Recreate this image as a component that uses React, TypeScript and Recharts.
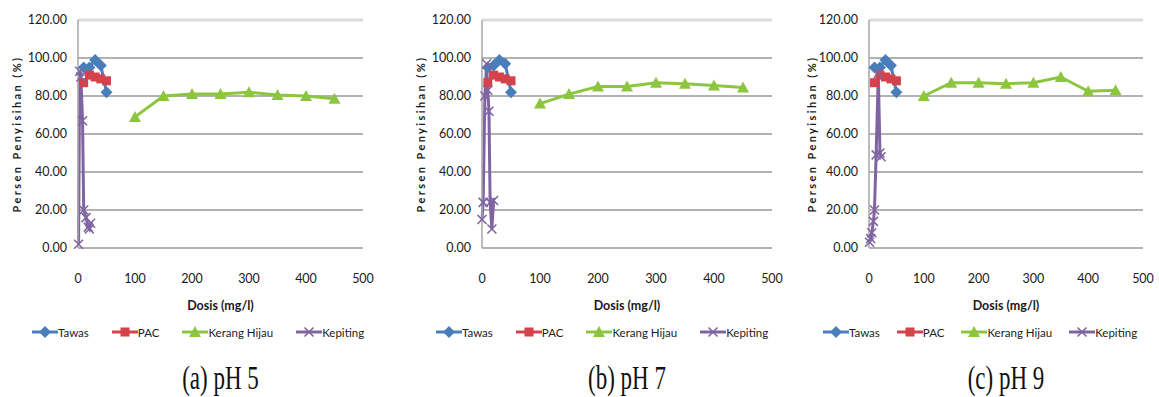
import { LineChart, Line, XAxis, YAxis, CartesianGrid, Legend, ReferenceLine } from 'recharts';

// doses (mg/l)
const tawasDose = [10, 20, 30, 40, 50];
const pacDose = [10, 20, 30, 40, 50];
const kerangDose = [100, 150, 200, 250, 300, 350, 400, 450];
const kepitingDosePh5 = [1, 3, 5, 8, 10, 14, 18, 20, 22];
const kepitingDosePh7 = [0, 2, 5, 8, 10, 12, 14, 17, 20];
const kepitingDosePh9 = [1, 3, 5, 8, 10, 13, 17, 20, 22];

// persen penyisihan (%)
const tawasPh5 = [95, 95, 99, 96, 82];
const tawasPh7 = [95, 96, 99, 97, 82];
const tawasPh9 = [95, 95, 99, 96, 82];
const pacPh5 = [87, 91, 90, 89, 88];
const pacPh7 = [87, 91, 90, 89, 88];
const pacPh9 = [87, 91, 90, 89, 88];
const kerangPh5 = [69, 80, 81, 81, 82, 80.5, 80, 78.5];
const kerangPh7 = [76, 81, 85, 85, 87, 86.5, 85.5, 84.5];
const kerangPh9 = [80, 87, 87, 86.5, 87, 90, 82.5, 83];
const kepitingPh5 = [2, 93, 90, 67, 20, 16, 11, 10, 13];
const kepitingPh7 = [15, 24, 80, 97, 83, 72, 24, 10, 25];
const kepitingPh9 = [3, 5, 8, 14, 20, 49, 92, 50, 48];

const xTicks = [0, 100, 200, 300, 400, 500];
const yTicks = [0, 20, 40, 60, 80, 100, 120];

const series = [
  { name: 'Tawas', color: '#4a7ebb', shape: 'diamond' },
  { name: 'PAC', color: '#d4434b', shape: 'square' },
  { name: 'Kerang Hijau', color: '#8cc63f', shape: 'triangle' },
  { name: 'Kepiting', color: '#8064a2', shape: 'x' },
];

const toPoints = (xs: number[], ys: number[]) => xs.map((x, i) => ({ dose: x, value: ys[i] }));

const Marker = ({ shape, cx, cy, color }: { shape: string; cx: number; cy: number; color: string }) => {
  if (shape === 'diamond')
    return <polygon points={`${cx},${cy - 6} ${cx + 6},${cy} ${cx},${cy + 6} ${cx - 6},${cy}`} fill={color} />;
  if (shape === 'square') return <rect x={cx - 4.5} y={cy - 4.5} width={9} height={9} fill={color} />;
  if (shape === 'triangle')
    return <polygon points={`${cx},${cy - 6} ${cx + 6},${cy + 5} ${cx - 6},${cy + 5}`} fill={color} />;
  return (
    <g stroke={color} strokeWidth={1.6}>
      <line x1={cx - 4.5} y1={cy - 4.5} x2={cx + 4.5} y2={cy + 4.5} />
      <line x1={cx - 4.5} y1={cy + 4.5} x2={cx + 4.5} y2={cy - 4.5} />
    </g>
  );
};

const LegendRow = ({ gap }: { gap: number }) => (
  <div style={{ display: 'flex', alignItems: 'center', fontSize: 11.5, color: '#222', whiteSpace: 'nowrap' }}>
    {series.map((s) => (
      <div key={s.name} style={{ display: 'flex', alignItems: 'center', marginRight: gap }}>
        <svg width={26} height={14}>
          <line x1={0} y1={7} x2={26} y2={7} stroke={s.color} strokeWidth={3} />
          <Marker shape={s.shape} cx={13} cy={7} color={s.color} />
        </svg>
        <span>{s.name}</span>
      </div>
    ))}
  </div>
);

type PanelProps = {
  left: number;
  width: number;
  right: number;
  labelOffset: number;
  legendGap: number;
  caption: string;
  sets: { dose: number; value: number }[][];
};

const Panel = ({ left, width, right, labelOffset, legendGap, caption, sets }: PanelProps) => (
  <div style={{ position: 'absolute', left, top: 0, width, height: 397 }}>
    <LineChart width={width} height={345} margin={{ top: 20, right, left: 0, bottom: 35 }}>
      <CartesianGrid vertical={false} stroke="#999" strokeWidth={1.6} />
      <ReferenceLine y={120} stroke="#dcdcdc" strokeWidth={3} />
      <XAxis
        type="number"
        dataKey="dose"
        domain={[0, 500]}
        ticks={xTicks}
        tickLine={false}
        axisLine={false}
        tickSize={0}
        tickMargin={26}
        height={62}
        tick={{ fontSize: 12.5, fill: '#1a1a1a' }}
        label={{ value: 'Dosis (mg/l)', position: 'insideBottom', offset: 0, fontSize: 12.5, fontWeight: 'bold', fill: '#1a1a1a' }}
      />
      <YAxis
        type="number"
        domain={[0, 120]}
        ticks={yTicks}
        width={78}
        tickLine={false}
        tickSize={0}
        tickMargin={11}
        axisLine={{ stroke: '#a6a6a6', strokeWidth: 1.5 }}
        tickFormatter={(v: number) => v.toFixed(2)}
        tick={{ fontSize: 12.5, fill: '#1a1a1a' }}
        label={{
          value: 'Persen Penyisihan  (%)',
          angle: -90,
          position: 'insideLeft',
          offset: labelOffset,
          fontSize: 11,
          fontWeight: 'bold',
          fill: '#1a1a1a',
          style: { textAnchor: 'middle', letterSpacing: 2.4 },
        }}
      />
      {series.map((s, i) => (
        <Line
          key={s.name}
          data={sets[i]}
          dataKey="value"
          type="linear"
          stroke={s.color}
          strokeWidth={3}
          isAnimationActive={false}
          dot={(p: any) => <Marker key={`${s.name}-${p.index}`} shape={s.shape} cx={p.cx} cy={p.cy} color={s.color} />}
          activeDot={false}
        />
      ))}
      <Legend
        layout="horizontal"
        verticalAlign="middle"
        align="center"
        wrapperStyle={{ top: 325, left: 32, width: width - 32 }}
        content={() => <LegendRow gap={legendGap} />}
      />
    </LineChart>
    <div
      style={{
        position: 'absolute',
        left: 78,
        width: width - 78 - right,
        top: 366,
        textAlign: 'center',
        fontFamily: '"Liberation Serif", serif',
        fontSize: 23,
        lineHeight: '24px',
        color: '#111',
        transform: 'scaleY(1.5)',
      }}
    >
      {caption}
    </div>
  </div>
);

const App = () => (
  <div
    style={{
      position: 'absolute',
      left: 0,
      top: 0,
      width: 1159,
      height: 397,
      background: '#fff',
      fontFamily: 'Lato, sans-serif',
    }}
  >
    <Panel
      left={0}
      width={390}
      right={27}
      labelOffset={17}
      legendGap={23}
      caption="(a) pH 5"
      sets={[
        toPoints(tawasDose, tawasPh5),
        toPoints(pacDose, pacPh5),
        toPoints(kerangDose, kerangPh5),
        toPoints(kepitingDosePh5, kepitingPh5),
      ]}
    />
    <Panel
      left={404}
      width={390}
      right={22}
      labelOffset={17}
      legendGap={23}
      caption="(b) pH 7"
      sets={[
        toPoints(tawasDose, tawasPh7),
        toPoints(pacDose, pacPh7),
        toPoints(kerangDose, kerangPh7),
        toPoints(kepitingDosePh7, kepitingPh7),
      ]}
    />
    <Panel
      left={791}
      width={368}
      right={16}
      labelOffset={21}
      legendGap={17}
      caption="(c) pH 9"
      sets={[
        toPoints(tawasDose, tawasPh9),
        toPoints(pacDose, pacPh9),
        toPoints(kerangDose, kerangPh9),
        toPoints(kepitingDosePh9, kepitingPh9),
      ]}
    />
  </div>
);

export default App;
